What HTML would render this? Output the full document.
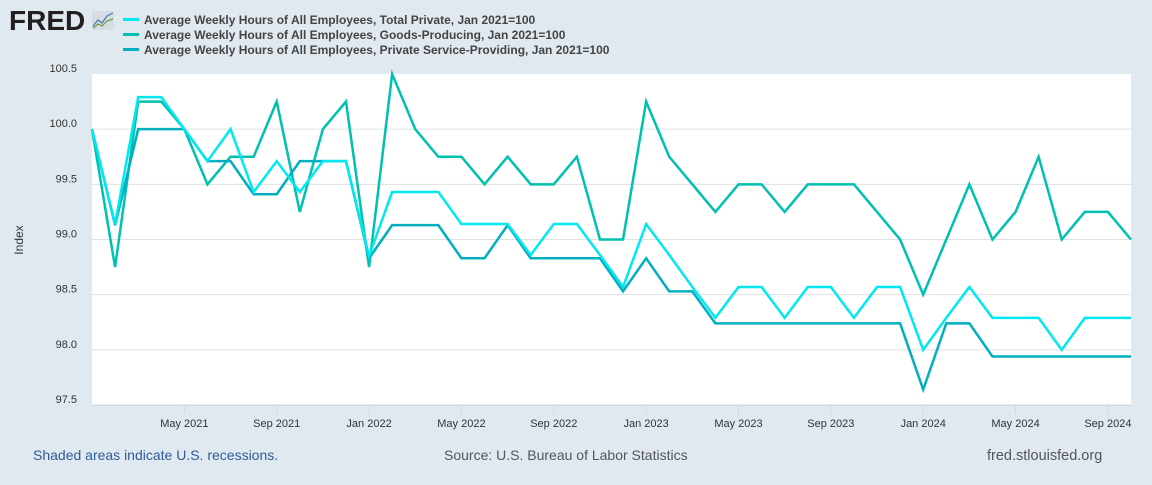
<!DOCTYPE html>
<html><head><meta charset="utf-8"><style>
body{margin:0;width:1152px;height:480px;background:#e1e9f0;font-family:"Liberation Sans",sans-serif;overflow:hidden}
</style></head><body>
<svg width="1152" height="480" xmlns="http://www.w3.org/2000/svg">
<rect width="1152" height="480" fill="#e1e9f0"/>
<g>
<text x="9" y="30" font-size="28" font-weight="bold" fill="#231f20" font-family="Liberation Sans" letter-spacing="0">FRED</text>
<rect x="92" y="11" width="22" height="19" rx="2" fill="#d5dde3"/>
<polyline points="93,26 98,20 102,23 107,16 113,13" fill="none" stroke="#4a7ab0" stroke-width="1.2"/>
<polyline points="93,28 98,24 102,26 107,21 113,19" fill="none" stroke="#6a9a3a" stroke-width="1.2"/>
</g>
<g font-size="12" font-weight="bold" fill="#444">
<g><rect x="123" y="18" width="16" height="3" fill="#00e8f0"/><text x="144" y="24">Average Weekly Hours of All Employees, Total Private, Jan 2021=100</text></g>
<g><rect x="123" y="33" width="16" height="3" fill="#00c0b0"/><text x="144" y="39">Average Weekly Hours of All Employees, Goods-Producing, Jan 2021=100</text></g>
<g><rect x="123" y="48" width="16" height="3" fill="#00afc0"/><text x="144" y="54">Average Weekly Hours of All Employees, Private Service-Providing, Jan 2021=100</text></g>
</g>
<rect x="92" y="74" width="1039" height="331" fill="#fff"/>
<g id="grid"></g>
<g id="series"></g>
<text x="23" y="240" font-size="12" fill="#333" transform="rotate(-90 23 240)" text-anchor="middle">Index</text>
<text x="33" y="460" font-size="14" fill="#2f5c9a">Shaded areas indicate U.S. recessions.</text>
<text x="444" y="460" font-size="14" fill="#555">Source: U.S. Bureau of Labor Statistics</text>
<text x="987" y="460" font-size="14.5" fill="#555">fred.stlouisfed.org</text>
</svg>
<script>
const yTicks=[97.5,98.0,98.5,99.0,99.5,100.0,100.5];
const xTickLabels=["May 2021","Sep 2021","Jan 2022","May 2022","Sep 2022","Jan 2023","May 2023","Sep 2023","Jan 2024","May 2024","Sep 2024"];
const xTickMonths=[4,8,12,16,20,24,28,32,36,40,44];
const totalPrivate=[100,99.14,100.29,100.29,100,99.71,100,99.43,99.71,99.43,99.71,99.71,98.85,99.43,99.43,99.43,99.14,99.14,99.14,98.86,99.14,99.14,98.86,98.57,99.14,98.86,98.57,98.29,98.57,98.57,98.29,98.57,98.57,98.29,98.57,98.57,98.0,98.29,98.57,98.29,98.29,98.29,98.0,98.29,98.29,98.29];
const goodsProducing=[100,98.75,100.25,100.25,100,99.5,99.75,99.75,100.25,99.25,100,100.25,98.75,100.5,100,99.75,99.75,99.5,99.75,99.5,99.5,99.75,99.0,99.0,100.25,99.75,99.5,99.25,99.5,99.5,99.25,99.5,99.5,99.5,99.25,99.0,98.5,99.0,99.5,99.0,99.25,99.75,99.0,99.25,99.25,99.0];
const serviceProviding=[100,99.13,100,100,100,99.71,99.71,99.41,99.41,99.71,99.71,99.71,98.83,99.13,99.13,99.13,98.83,98.83,99.13,98.83,98.83,98.83,98.83,98.53,98.83,98.53,98.53,98.24,98.24,98.24,98.24,98.24,98.24,98.24,98.24,98.24,97.64,98.24,98.24,97.94,97.94,97.94,97.94,97.94,97.94,97.94];
const L=92,R=1131,T=74,B=405,NM=45;
const x=i=>L+(R-L)*i/NM;
const y=v=>T+(100.5-v)/3*(B-T);
const NS="http://www.w3.org/2000/svg";
const grid=document.getElementById('grid');
function mk(tag,attrs,parent){const e=document.createElementNS(NS,tag);for(const k in attrs)e.setAttribute(k,attrs[k]);parent.appendChild(e);return e;}
yTicks.forEach(v=>{
  if(v<100.5){const g=mk('line',{x1:L,x2:R,y1:y(v),y2:y(v),stroke:'#e1e1e1','stroke-width':1},grid);
  
  }
  const t=mk('text',{x:77,y:y(v)-2,'font-size':11,fill:'#333','text-anchor':'end'},grid);
  
  
  t.textContent=v.toFixed(1);
});
mk('line',{x1:L,x2:R,y1:B+0.5,y2:B+0.5,stroke:'#ccd6eb'},grid);
xTickMonths.forEach((m,k)=>{
  const tk=mk('line',{x1:x(m),x2:x(m),y1:B,y2:B+9,stroke:'#ccd6eb'},grid);
  
  
  const t=mk('text',{x:x(m),y:B+22,'font-size':11,fill:'#333','text-anchor':'middle'},grid);
  
  
  t.textContent=xTickLabels[k];
});
const ser=document.getElementById('series');
[[goodsProducing,'#00c0b0','line-goods-producing'],[serviceProviding,'#00afc0','line-service-providing'],[totalPrivate,'#00e8f0','line-total-private']].forEach(([d,c,n])=>{
  const p=mk('polyline',{points:d.map((v,i)=>x(i)+','+y(v)).join(' '),fill:'none',stroke:c,'stroke-width':2.5,'stroke-linejoin':'miter'},ser);
  
  
});
</script>
</body></html>
